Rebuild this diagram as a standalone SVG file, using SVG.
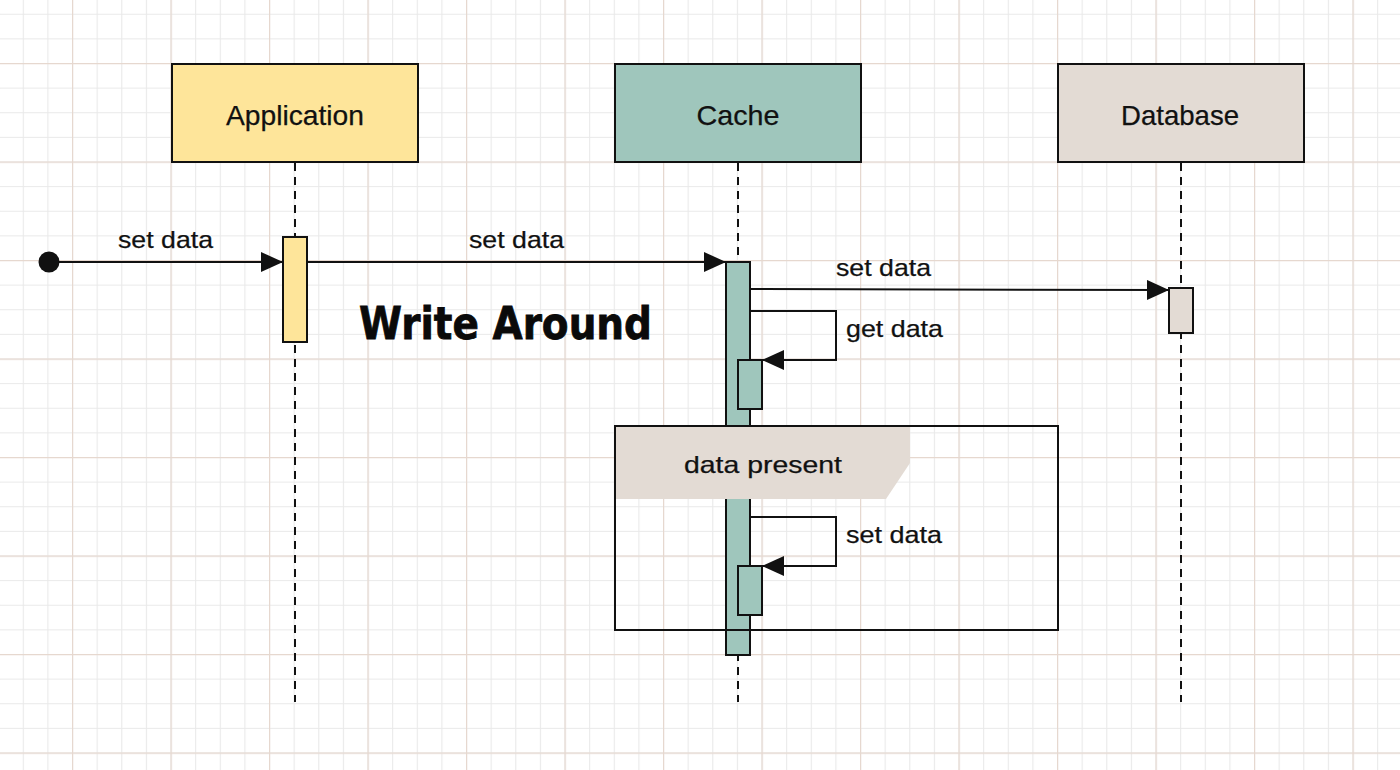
<svg xmlns="http://www.w3.org/2000/svg" width="1400" height="770" viewBox="0 0 1400 770">
  <style>
    .box { stroke: #111; stroke-width: 2; }
    .life { stroke: #111; stroke-width: 2; stroke-dasharray: 8 6; fill: none; }
    .act { stroke: #111; stroke-width: 2; }
    .msg { stroke: #111; stroke-width: 2; fill: none; marker-end: url(#arr); }
    .lbl { font-family: "Liberation Sans", Arial, Helvetica, sans-serif; font-size: 24px; fill: #111; stroke: #111; stroke-width: 0.25; }
    .title { font-family: "Liberation Sans", Arial, Helvetica, sans-serif; font-size: 28px; fill: #111; stroke: #111; stroke-width: 0.25; text-anchor: middle; }
    .yellow { fill: #fee59a; }
    .teal { fill: #9fc6bc; }
    .stone { fill: #e3dbd4; }
  </style>
  <defs>
    <pattern id="minor" x="-1.875" y="-10.875" width="24.625" height="24.625" patternUnits="userSpaceOnUse">
      <path d="M0.5 0 V24.625 M0 0.5 H24.625" stroke="#e9e9e9" stroke-width="1.2" fill="none"/>
    </pattern>
    <pattern id="major" x="-26.5" y="-35.5" width="98.5" height="98.5" patternUnits="userSpaceOnUse">
      <path d="M0.5 0 V98.5 M0 0.5 H98.5" stroke="#e6d8cf" stroke-width="1.4" fill="none"/>
    </pattern>
    <marker id="arr" markerUnits="userSpaceOnUse" markerWidth="22" markerHeight="20" refX="22" refY="10" orient="auto">
      <path d="M0,0 L22,10 L0,20 z" fill="#111"/>
    </marker>
  </defs>

  <g id="background">
    <rect width="1400" height="770" fill="#ffffff"/>
    <rect width="1400" height="770" fill="url(#minor)"/>
    <rect width="1400" height="770" fill="url(#major)"/>
  </g>

  <g id="lifelines">
    <line class="life" x1="295" y1="163" x2="295" y2="702"/>
    <line class="life" x1="738" y1="163" x2="738" y2="702"/>
    <line class="life" x1="1181" y1="163" x2="1181" y2="702"/>
  </g>

  <g id="application">
    <rect class="box yellow" x="172" y="64" width="246" height="98"/>
    <text class="title" x="295" y="125" textLength="138" lengthAdjust="spacingAndGlyphs">Application</text>
  </g>
  <g id="cache">
    <rect class="box teal" x="615" y="64" width="246" height="98"/>
    <text class="title" x="738" y="125" textLength="83" lengthAdjust="spacingAndGlyphs">Cache</text>
  </g>
  <g id="database">
    <rect class="box stone" x="1058" y="64" width="246" height="98"/>
    <text class="title" x="1180" y="125" textLength="118" lengthAdjust="spacingAndGlyphs">Database</text>
  </g>

  <g id="activations">
    <rect id="app-activation" class="act yellow" x="283" y="237" width="24" height="105"/>
    <rect id="cache-activation" class="act teal" x="726" y="262" width="24" height="393"/>
    <rect id="db-activation" class="act stone" x="1169" y="288" width="24" height="45"/>
  </g>

  <g id="frame-data-present">
    <rect x="615" y="426" width="443" height="204" fill="none" stroke="#111" stroke-width="2"/>
    <path d="M616 427 H910 V463 L886 499 H616 Z" fill="#e3dbd4"/>
    <text class="lbl" x="763" y="473" text-anchor="middle" textLength="158" lengthAdjust="spacingAndGlyphs">data present</text>
  </g>

  <g id="sub-activations">
    <rect class="act teal" x="738" y="360" width="24" height="49"/>
    <rect class="act teal" x="738" y="566" width="24" height="49"/>
  </g>

  <g id="connectors">
    <circle cx="49" cy="262" r="10.5" fill="#111"/>
    <line class="msg" x1="52" y1="262" x2="283" y2="262"/>
    <line class="msg" x1="307" y1="262" x2="726" y2="262"/>
    <line class="msg" x1="750" y1="289" x2="1169" y2="290"/>
    <polyline class="msg" points="750,311 836,311 836,360 762,360"/>
    <polyline class="msg" points="750,517 836,517 836,566 762,566"/>
  </g>

  <g id="labels">
    <text class="lbl" x="118" y="248" textLength="95" lengthAdjust="spacingAndGlyphs">set data</text>
    <text class="lbl" x="469" y="248" textLength="95" lengthAdjust="spacingAndGlyphs">set data</text>
    <text class="lbl" x="836" y="276" textLength="95" lengthAdjust="spacingAndGlyphs">set data</text>
    <text class="lbl" x="846" y="337" textLength="97" lengthAdjust="spacingAndGlyphs">get data</text>
    <text class="lbl" x="846" y="543" textLength="96" lengthAdjust="spacingAndGlyphs">set data</text>
  </g>

  <g id="heading">
    <text x="359" y="339" font-family="'DejaVu Sans', Verdana, sans-serif" font-weight="bold" font-size="44" fill="#0a0a0a" stroke="#0a0a0a" stroke-width="0.8" textLength="293" lengthAdjust="spacingAndGlyphs">Write Around</text>
  </g>
</svg>
